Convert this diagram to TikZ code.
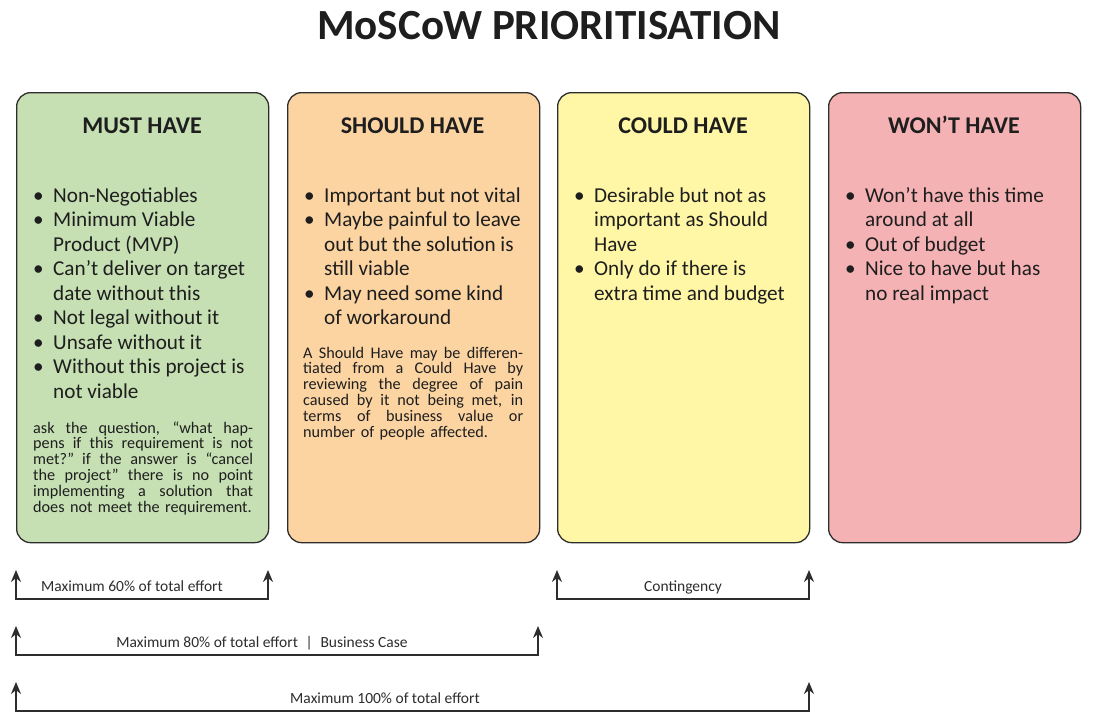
\documentclass[tikz,border=0pt]{standalone}
\usepackage{fontspec}
\setmainfont{Carlito}
\usetikzlibrary{arrows.meta}
\definecolor{mgreen}{RGB}{198,224,180}
\definecolor{morange}{RGB}{251,212,162}
\definecolor{myellow}{RGB}{255,247,165}
\definecolor{mpink}{RGB}{245,178,180}
\definecolor{ink}{RGB}{30,30,30}
\definecolor{edge}{RGB}{45,45,45}
\newcommand\jl[1]{\makebox[220pt][s]{\spaceskip=\fontdimen2\font plus 1fil\relax #1}\\}
\newcommand\bl{•}
\tikzset{
  card/.style={draw=edge, line width=1.3pt, rounded corners=14pt, inner sep=0pt, minimum width=252pt, minimum height=450pt, anchor=north west},
  head/.style={anchor=base, font=\fontsize{24}{28}\selectfont\bfseries, text=ink, inner sep=0pt},
  blist/.style={anchor=base west, inner sep=0pt, text=ink, font=\fontsize{21.2}{24.55}\selectfont},
  para/.style={anchor=base west, inner sep=0pt, text=ink, text width=220pt, align=left, font=\fontsize{16.2}{15.9}\selectfont},
  span/.style={draw=edge, line width=1.6pt, {Stealth[length=12pt,width=10pt]}-{Stealth[length=12pt,width=10pt]}},
  lab/.style={anchor=base, inner sep=0pt, text=edge, font=\fontsize{15.5}{18}\selectfont},
}
\newcommand\blt[1]{\begin{tabular}[t]{@{}p{20pt}@{}l@{}}#1\end{tabular}}
\begin{document}
\begin{tikzpicture}[x=1pt,y=-1pt]
\useasboundingbox[fill=white] (0,0) rectangle (1096,720);
% title
\node[anchor=base, inner sep=0pt, text=ink, font=\fontsize{43}{48}\selectfont\bfseries] (title) at (549,39) {MoSCoW PRIORITISATION};
% cards
\node[card, fill=mgreen] (must) at (16,92) {};
\node[card, fill=morange] (should) at (287,92) {};
\node[card, fill=myellow] (could) at (557,92) {};
\node[card, fill=mpink] (wont) at (828,92) {};
% headings
\node[head] (musth) at (142,133) {MUST HAVE};
\node[head] (shouldh) at (412.5,133) {SHOULD HAVE};
\node[head] (couldh) at (683,133) {COULD HAVE};
\node[head] (wonth) at (954,133) {WON’T HAVE};
% bullets
\node[blist] (mustl) at (33,202) {\blt{%
\bl & Non-Negotiables\\
\bl & Minimum Viable\\
 & Product (MVP)\\
\bl & Can’t deliver on target\\
 & date without this\\
\bl & Not legal without it\\
\bl & Unsafe without it\\
\bl & Without this project is\\
 & not viable}};
\node[blist] (shouldl) at (304,202) {\blt{%
\bl & Important but not vital\\
\bl & Maybe painful to leave\\
 & out but the solution is\\
 & still viable\\
\bl & May need some kind\\
 & of workaround}};
\node[blist] (couldl) at (574,202) {\blt{%
\bl & Desirable but not as\\
 & important as Should\\
 & Have\\
\bl & Only do if there is\\
 & extra time and budget}};
\node[blist] (wontl) at (845,202) {\blt{%
\bl & Won’t have this time\\
 & around at all\\
\bl & Out of budget\\
\bl & Nice to have but has\\
 & no real impact}};
% paragraphs
\node[para] (mustp) at (33,433) {%
\jl{ask the question, “what hap-}%
\jl{pens if this requirement is not}%
\jl{met?” if the answer is “cancel}%
\jl{the project” there is no point}%
\jl{implementing a solution that}%
does not meet the requirement.};
\node[para] (shouldp) at (303,358) {%
\jl{A Should Have may be differen-}%
\jl{tiated from a Could Have by}%
\jl{reviewing the degree of pain}%
\jl{caused by it not being met, in}%
\jl{terms of business value or}%
number of people affected.};
% spans
\coordinate (a1) at (16,570);  \coordinate (a1b) at (16,599);
\coordinate (a2) at (268,570); \coordinate (a2b) at (268,599);
\draw[span] (a1) -- (a1b) -- (a2b) -- (a2);
\node[lab] (l60) at (132,591) {Maximum 60\% of total effort};
\coordinate (c1) at (557,570); \coordinate (c1b) at (557,599);
\coordinate (c2) at (809,570); \coordinate (c2b) at (809,599);
\draw[span] (c1) -- (c1b) -- (c2b) -- (c2);
\node[lab] (lcont) at (683,591) {Contingency};
\coordinate (b1) at (16,626);  \coordinate (b1b) at (16,655);
\coordinate (b2) at (538,626); \coordinate (b2b) at (538,655);
\draw[span] (b1) -- (b1b) -- (b2b) -- (b2);
\node[lab] (l80) at (262,647) {Maximum 80\% of total effort\enspace|\enspace Business Case};
\coordinate (d1) at (16,682);  \coordinate (d1b) at (16,711);
\coordinate (d2) at (809,682); \coordinate (d2b) at (809,711);
\draw[span] (d1) -- (d1b) -- (d2b) -- (d2);
\node[lab] (l100) at (385,703) {Maximum 100\% of total effort};
\end{tikzpicture}
\end{document}
